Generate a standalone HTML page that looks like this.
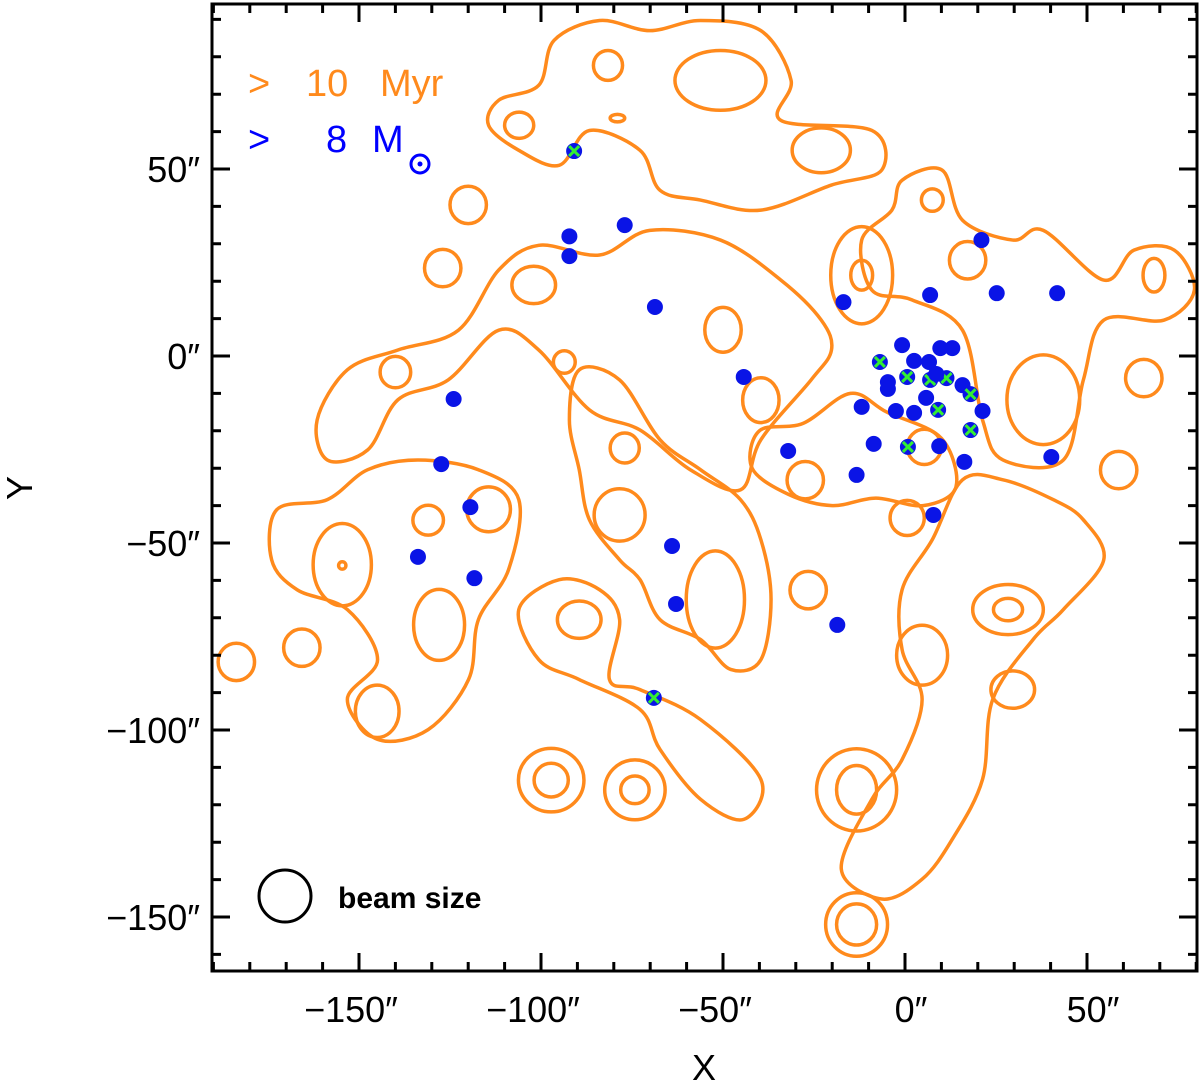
<!DOCTYPE html>
<html><head><meta charset="utf-8"><style>
html,body{margin:0;padding:0;background:#fff}
svg{display:block}
text{font-family:"Liberation Sans",sans-serif}
</style></head><body>
<svg id="chart" width="1200" height="1083" viewBox="0 0 1200 1083" xmlns="http://www.w3.org/2000/svg">
<g id="contours" fill="none" stroke="#ff8a1c" stroke-width="3.5"></g>
<g id="points"></g>
<g id="axes"></g>
<g>
<text x="248" y="96" font-size="38" fill="#ff8a1c">&gt;</text>
<text x="306" y="96" font-size="38" fill="#ff8a1c">10</text>
<text x="380" y="96" font-size="38" fill="#ff8a1c">Myr</text>
<text x="248" y="152" font-size="38" fill="#0000ff">&gt;</text>
<text x="326" y="152" font-size="38" fill="#0000ff">8</text>
<text x="372" y="152" font-size="38" fill="#0000ff">M</text>
<circle cx="420" cy="164" r="9" fill="none" stroke="#0000ff" stroke-width="3"/>
<circle cx="420" cy="164" r="2.5" fill="#0000ff"/>
<circle cx="285" cy="896" r="26" fill="none" stroke="#000" stroke-width="3"/>
<text x="338" y="908" font-size="30" font-weight="bold" fill="#000">beam size</text>
</g>
</svg>
<script>
const xTicks=[-150,-100,-50,0,50];
const yTicks=[-150,-100,-50,0,50];
const starX=[-90.9,-92.2,-92.2,-77,-68.7,-16.9,-44.3,-124,-127.4,-119.4,-133.8,-118.3,-64,-62.9,-32.1,-13.3,-18.6,-69,21,6.9,25.2,41.8,40.2,7.8,-0.8,2.5,6.6,9.7,13,-6.9,-4.7,-4.7,0.6,5.8,-2.5,-11.9,2.5,9.1,6.9,11.4,15.8,18,21.3,18,9.4,0.8,16.3,-8.6,8.6];
const starY=[54.8,32,26.7,35,13.1,14.4,-5.6,-11.5,-28.9,-40.4,-53.7,-59.4,-50.8,-66.3,-25.4,-31.8,-71.9,-91.4,31,16.3,16.8,16.8,-27,-42.5,2.9,-1.3,-1.6,2.1,2.1,-1.6,-7,-8.8,-5.6,-11.2,-14.7,-13.6,-15.2,-14.4,-6.4,-5.9,-7.8,-10.2,-14.7,-19.8,-24.1,-24.3,-28.3,-23.5,-4.8];
const starYoung=[1,0,0,0,0,0,0,0,0,0,0,0,0,0,0,0,0,1,0,0,0,0,0,0,0,0,0,0,0,1,0,0,1,0,0,0,0,1,1,1,0,1,0,1,0,1,0,0,0];
// ellipse contours: cx, cy, rx, ry (arcsec)
const ellCX=[-183.7,-165.7,-120,-127,-26.6,58.7,65.6,-77,-27.4,0.6,5.3,-93.6,-79,-140,-97.2,-97.2,-74.2,-74.2,-13.3,-13.3,-131,-50.7,-106,-81.6,-23,38,68.4,17.2,7.5,-11.9,-11.9,28.3,28.3,29.6,4.7,-154.6,-154.6,-128,-145,-114.4,-78.4,-52.1,-89.5,-13.3,-13.3,-50,-39.6,-102];
const ellCY=[-81.8,-78,40.4,23.5,-62.6,-30.5,-5.9,-24.6,-33.2,-43.3,-24.3,-1.6,63.6,-4.3,-113.4,-113.4,-116,-116,-152,-152,-43.9,73.7,61.7,77.7,55,-11.7,21.6,25.6,41.7,21.6,21.6,-67.8,-67.8,-89.2,-80,-55.8,-56,-71.9,-95,-41,-42.5,-65.1,-70.5,-116,-116,7,-11.8,19];
const ellRX=[5,5,5,5,5,5,5,4,5,4.7,4.7,3,2,4.2,9,4.7,8.3,3.9,8.5,5.5,4.2,12.5,4,4,8,10,3,5,3,8.5,3,9.7,4,6,7,8,1,7,6,6,7,8,6,11,5.5,5,5,6];
const ellRY=[5,5,5,5,5,5,5,4,5,4.7,4.7,3,1,4.2,8.5,4.5,8,3.7,8.5,5.5,4,8,3.5,4,6,12,4.5,5,3,13,4,6.7,3,5,8,11,1,9.5,7,6,7,13,5,11,6.5,6,6,5];
// free-form contours (arcsec)
const loopsX=[
[-111.6,-100.6,-96.4,-83.9,-70.1,-56.2,-39.6,-31.3,-34.1,-9.1,-6.4,-20.2,-39.6,-56.2,-67.3,-72.8,-86.7,-95,-106.1,-114.4],
[-161.5,-153.2,-139.3,-122.7,-111.6,-100.6,-83.9,-70.1,-50.7,-34.1,-23,-20.2,-25.8,-39.6,-45.2,-59,-72.8,-86.7,-100.6,-111.6,-125.5,-139.3,-147.6,-158.7],
[-0.8,10.2,15.8,29.6,38,54.6,62.9,74,79.5,71.2,54.6,49,43.5,26.9,21.3,15.8,1.9,-9.1,-11.9,-3.6],
[-0.8,7.5,15.8,26.9,40.7,49,54.6,43.5,35.2,24.1,21.3,13,4.7,-6.4,-17.5,-9.1,-0.8,4.7,-0.8],
[-172.6,-158.7,-147.6,-133.8,-117.2,-106.1,-108.9,-117.2,-119.9,-131,-144.9,-153.2,-144.9,-153.2,-167,-174],
[-89.5,-78.4,-67.3,-56.2,-45.2,-39.6,-36.8,-39.6,-47.9,-56.2,-67.3,-72.8,-78.4,-86.7,-89.5,-92.2],
[-106.1,-95,-83.9,-78.4,-81.2,-72.8,-56.2,-39.6,-44.3,-56.2,-67.3,-72.8,-89.5,-100.6],
[-40,-28,-15,-5,10,14,5,-8,-20,-32,-42]
];
const loopsY=[
[68.4,72.4,84.4,89.7,87,89.7,87,73.7,63,60.3,49.7,45.7,39,41.7,44.3,55,60.3,51,55,61.7],
[-17.1,-3.7,1.6,6.9,23,29.6,27,33.6,31,20.3,9.6,1.6,-6.4,-22.4,-35.8,-30.4,-19.8,-14.4,1.6,6.9,-6.4,-11.7,-25.1,-27.8],
[47,49.7,36.3,31,33.6,20.3,28.3,28.3,17.6,9.6,9.6,-6.4,-27.8,-27.8,-17.1,6.9,15,17.6,31,39],
[-62.5,-49.1,-33.1,-33.1,-38.4,-43.8,-54.5,-67.8,-75.8,-91.8,-113.2,-129.2,-139.9,-145.2,-137.2,-118.5,-107.9,-91.8,-78.5],
[-41.1,-38.4,-30.4,-27.8,-30.4,-38.4,-57.1,-70.5,-86.5,-99.9,-102.5,-91.8,-81.2,-67.8,-62.5,-54.5],
[-3.7,-6.4,-22.4,-30.4,-38.4,-49.1,-65.1,-81.2,-83.8,-75.8,-70.5,-59.8,-54.5,-43.8,-30.4,-17.1],
[-67.8,-59.8,-62.5,-70.5,-86.5,-89.2,-97.2,-113.2,-123.9,-118.5,-105.2,-94.5,-86.5,-81.2],
[-20,-18,-10,-15,-22,-35,-40,-38,-40,-37,-30]
];
const NS='http://www.w3.org/2000/svg';
const L=212,R=1197,T=4,B=971;
function sx(x){return 905+3.64*x;}
function sy(y){return 356-3.74*y;}
const cg=document.getElementById('contours');
for(let i=0;i<ellCX.length;i++){
  const e=document.createElementNS(NS,'ellipse');
  e.setAttribute('cx',sx(ellCX[i]));e.setAttribute('cy',sy(ellCY[i]));
  e.setAttribute('rx',ellRX[i]*3.64);e.setAttribute('ry',ellRY[i]*3.74);
  
  
  cg.appendChild(e);
}
for(let k=0;k<loopsX.length;k++){
  const P=loopsX[k].map((x,i)=>[sx(x),sy(loopsY[k][i])]);const n=P.length;
  let d='M'+P[0][0]+','+P[0][1];
  for(let i=0;i<n;i++){const p0=P[(i-1+n)%n],p1=P[i],p2=P[(i+1)%n],p3=P[(i+2)%n];
    d+='C'+(p1[0]+(p2[0]-p0[0])/6)+','+(p1[1]+(p2[1]-p0[1])/6)+' '+(p2[0]-(p3[0]-p1[0])/6)+','+(p2[1]-(p3[1]-p1[1])/6)+' '+p2[0]+','+p2[1];}
  const p=document.createElementNS(NS,'path');p.setAttribute('d',d+'Z');
  
  
  cg.appendChild(p);
}
const pg=document.getElementById('points');
for(let i=0;i<starX.length;i++){
  const c=document.createElementNS(NS,'circle');
  c.setAttribute('cx',sx(starX[i]));c.setAttribute('cy',sy(starY[i]));c.setAttribute('r',8);c.setAttribute('fill','#0a14e6');
  
  
  pg.appendChild(c);
  if(starYoung[i]){const x=sx(starX[i]),y=sy(starY[i]);
    const m=document.createElementNS(NS,'path');
    m.setAttribute('d',`M${x-5},${y-5}L${x+5},${y+5}M${x-5},${y+5}L${x+5},${y-5}`);
    m.setAttribute('stroke','#33ee33');m.setAttribute('stroke-width',3);
    
    
    pg.appendChild(m);}
}
const ag=document.getElementById('axes');
let d=`M${L},${T}H${R}V${B}H${L}Z`;
for(let v=-190;v<=80;v+=10){const x=sx(v);if(x<L||x>R)continue;const len=v%50===0?18:9;d+=`M${x},${B}v${-len}M${x},${T}v${len}`;}
for(let v=-160;v<=90;v+=10){const y=sy(v);if(y<T||y>B)continue;const len=v%50===0?18:9;d+=`M${L},${y}h${len}M${R},${y}h${-len}`;}
const fr=document.createElementNS(NS,'path');fr.setAttribute('d',d);fr.setAttribute('fill','none');fr.setAttribute('stroke','#000');fr.setAttribute('stroke-width',3);


ag.appendChild(fr);
function lab(x,y,s,anchor,name){const t=document.createElementNS(NS,'text');t.setAttribute('x',x);t.setAttribute('y',y);t.setAttribute('font-size',36);t.setAttribute('text-anchor',anchor);t.textContent=s;
  
  
  ag.appendChild(t);}
xTicks.forEach(v=>lab(sx(v)+(v<0?-8:6),1022,(v<0?'\u2212'+(-v):v)+'\u2033','middle','x-tick-label'));
yTicks.forEach(v=>lab(200,sy(v)+13,(v<0?'\u2212'+(-v):v)+'\u2033','end','y-tick-label'));
lab(704,1080,'X','middle','x-axis-title');
const yt=document.createElementNS(NS,'text');yt.setAttribute('x',0);yt.setAttribute('y',0);yt.setAttribute('font-size',36);yt.setAttribute('text-anchor','middle');
yt.setAttribute('transform','translate(32,488) rotate(-90)');yt.textContent='Y';


ag.appendChild(yt);
</script>
</body></html>
